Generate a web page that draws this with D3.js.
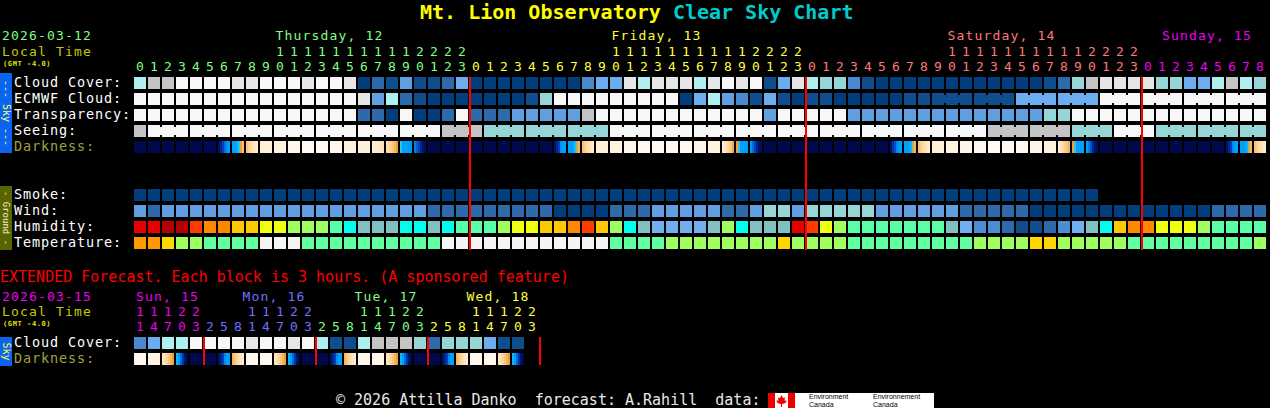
<!DOCTYPE html>
<html>
<head>
<meta charset="utf-8">
<script src="https://cdn.jsdelivr.net/npm/d3@7"></script>
<style>
  html, body { margin: 0; padding: 0; background: #000; }
  svg { display: block; }
  text { white-space: pre; }
</style>
</head>
<body>
<svg id="chart" width="1270" height="408"></svg>
<script>
// ---------- data ----------
var titleSite = "Mt. Lion Observatory ";
var titleChart = "Clear Sky Chart";
var chartDate = "2026-03-12";
var extDate = "2026-03-15";
var tzLabel = "(GMT -4.0)";

var dayNames = ["Thursday, 12", "Friday, 13", "Saturday, 14", "Sunday, 15"];
var hoursPerDay = [24, 24, 24, 9];

var skyRows = ["Cloud Cover:", "ECMWF Cloud:", "Transparency:", "Seeing:", "Darkness:"];
var groundRows = ["Smoke:", "Wind:", "Humidity:", "Temperature:"];

// cloud cover in tenths (0 clear .. 10 overcast)
var cloudCover = [7,8,8,10,10,10,10,9,9,10, 10,10,9,10,10,9,0,2,1,4,
                  1,1,2,5,0,0,0,0,0,0, 0,0,3,5,5,9,7,9,9,9,
                  7,9,10,9,10,1,5,9,7,6, 6,3,1,0,0,0,0,0,0,0,
                  0,0,0,0,0,1,2,6,8,9, 9,9,9,6,6,5,5,7,8,7,6];
var ecmwfCloud = [10,10,10,10,10,10,10,10,10,10, 10,10,10,10,10,10,9,4,7,2,
                  1,0,0,0,0,0,0,0,1,6, 10,10,10,10,10,10,10,10,10,0,
                  5,7,4,3,1,5,1,0,1,1, 0,0,0,0,0,1,1,1,1,1,
                  1,1,1,5,5,5,5,5,5,10, 10,10,10,10,10,10,10,10,10,10,10];
// transparency: 0 transparent .. 4 poor, 5 too cloudy
var transparency = [5,5,5,5,5,5,5,5,5,5, 5,5,5,5,5,5,1,1,0,5,
                    0,0,1,5,1,1,1,2,2,2, 2,2,4,5,5,5,5,5,5,5,
                    5,5,5,5,5,2,5,5,5,5, 5,2,2,2,2,2,2,2,2,2,
                    2,2,2,2,2,3,3,5,5,5, 5,5,5,5,5,5,5,5,5,5,5];
// seeing: 0 too cloudy, 1 bad, 2 poor
var seeing = [1,0,0,0,0,0,0,0,0,0, 0,0,0,0,0,0,0,0,0,0,
              0,0,1,1,1,2,2,2,2,2, 2,2,2,2,0,0,0,0,0,0,
              0,0,0,0,0,0,0,0,0,0, 0,0,0,0,0,0,0,0,0,0,
              0,1,1,1,1,1,1,2,2,2, 0,0,0,2,2,2,2,2,2,2,2];
// darkness (limiting magnitude like value, -4 day .. 6 dark); lists are sub-hour samples
var darkness = [6,6,6,6,6,5.8,[5,4,3,1.5,0.8,0.5],[0.5,0.5,0.4,0.1,-0.4,-1],[-1.2,-1.6,-2,-2.3,-2.6,-2.8],-3,
                -3.3,-3.7,-4,-4,-3.7,-3.3,-3,[-2.9,-2.8,-2.7,-2.6,-2.5,-2.4],[-2.2,-1.9,-1.6,-1.2,-0.8,-0.4],[0.1,0.5,0.5,0.5,0.5,0.7],
                [1.2,2,3,4,5,5.5],6,6,6,6,6,6,6,6,6,
                [5,4,3,0.8,0.5,0.5],[0.5,0.5,0.5,0.2,-0.3,-0.8],[-1,-1.5,-2,-2.3,-2.6,-2.8],-3,-3.3,-3.6,-3.9,-4,-4,-3.8,
                -3.5,-3.2,[-2.8,-2.5,-2.1,-1.7,-1.2,-0.6],[-0.4,0.1,0.5,0.5,0.5,0.5],[0.7,1.5,3,4,5,5.5],6,6,6,6,6,
                6,6,6,6,[5,3.5,2.5,1,0.6,0.5],[0.5,0.5,0.5,0.3,-0.3,-0.8],[-1,-1.5,-2,-2.3,-2.6,-2.8],-3,-3.3,-3.5,
                -3.8,-4,-4,-3.8,-3.5,-3.2,[-2.8,-2.4,-2,-1.6,-1.2,-0.8],[-0.4,0.1,0.5,0.5,0.5,0.5],[0.6,1.2,2.5,4,5,5.5],6,
                6,6,6,6,6,6,6,6,[5,4,3,1,0.5,0.5],[0.5,0.5,0.5,0.3,-0.3,-0.8],[-1,-1.5,-2,-2.3,-2.6,-2.8]];
// smoke: 0 = no smoke, null = no data
var smoke = [0,0,0,0,0,0,0,0,0,0, 0,0,0,0,0,0,0,0,0,0,
             0,0,0,0,0,0,0,0,0,0, 0,0,0,0,0,0,0,0,0,0,
             0,0,0,0,0,0,0,0,0,0, 0,0,0,0,0,0,0,0,0,0,
             0,0,0,0,0,0,0,0,0,null, null,null,null,null,null,null,null,null,null,null,null];
// wind bands: 0 calm .. 5 strong
var wind = [2,1,2,2,2,2,2,2,2,2, 2,2,2,2,2,2,2,2,2,2,
            2,1,1,1,1,1,1,1,1,1, 0,0,0,0,1,1,1,2,2,2,
            2,2,1,1,2,3,3,2,3,3, 3,3,3,2,2,2,2,2,2,1,
            1,1,1,1,0,0,0,0,0,0, 0,0,0,0,0,0,0,1,1,1,1];
// humidity bands: 0 (<25%) .. 14 (95-100%)
var humidity = [13,13,14,14,12,11,11,10,10,9, 9,8,8,8,7,6,5,5,5,6,
                6,5,6,7,7,7,8,9,9,10, 10,11,12,10,8,6,5,4,4,4,
                4,5,8,6,5,5,5,13,12,9, 8,7,7,7,7,7,7,7,5,4,
                3,3,2,1,1,2,3,4,5,6, 10,11,11,9,9,9,8,7,7,7,7];
// temperature bands
var temperature = [4,4,3,2,2,1,1,1,1,0, 0,0,1,1,1,1,1,1,1,1,
                   1,1,0,0,0,0,0,0,0,0, 0,0,0,0,1,1,1,1,2,2,
                   2,2,2,2,2,2,3,2,2,2, 2,1,1,1,1,1,1,1,1,1,
                   2,2,2,2,3,3,2,2,2,2, 2,1,1,1,1,1,1,1,1,1,2];

// extended forecast (3 hour blocks)
var extTitle = "EXTENDED Forecast. Each block is 3 hours. (A sponsored feature)";
var extDayNames = ["Sun, 15", "Mon, 16", "Tue, 17", "Wed, 18"];
var extDayHours = [[11,14,17,20,23], [2,5,8,11,14,17,20,23], [2,5,8,11,14,17,20,23], [2,5,8,11,14,17,20,23]];
var extRows = ["Cloud Cover:", "Darkness:"];
var extCloud = [3,5,7,7,10,10,10,10,9,10,10,9,10,7,1,1,7,8,8,8,6,2,6,6,6,5,1,1];
var extDark = [-3.8,-3.4,[-2.6,-2.2,-1.8,-1.3,-0.8,-0.4],[0.3,0.5,1.5,3.5,5,6],6,6,[5,4,3,1,0.5,0.5],[-0.8,-1.3,-1.8,-2.2,-2.6,-2.9],-3.8,-3.9,
               [-2.6,-2.2,-1.8,-1.3,-0.8,-0.4],[0.3,0.5,1.5,3.5,5,6],6,6,[5,4,3,1,0.5,0.5],[-0.8,-1.3,-1.8,-2.2,-2.6,-2.9],-3.8,-3.6,
               [-2.6,-2.2,-1.8,-1.3,-0.8,-0.4],[0.3,0.5,1.5,3.5,5,6],6,6,[5,4,3,1,0.5,0.5],[-0.8,-1.3,-1.8,-2.2,-2.6,-2.9],-3.8,-3.7,
               [-2.6,-2.2,-1.8,-1.3,-0.8,-0.4],[0.3,0.5,1.5,3.5,5,6]];

var footerText = "\u00a9 2026 Attilla Danko  forecast: A.Rahill  data:";

// ---------- styles ----------
var mono = '"DejaVu Sans Mono", monospace';
var hdrSize = 13, hdrSpacing = 1.17;   // 13px glyphs on a 9px pitch
var rowSize = 13.5, rowSpacing = 0.87;
var dayColors = ["#80ff80", "#ffff40", "#ff7878", "#ee00ee"];
var extDayColors = ["#ee00ee", "#7070ff", "#80ff80", "#ffff40"];
var cloudPal = ["#003e7e","#0f4e8e","#2c6aab","#4a89cd","#5f9fe2","#6cadf0","#96d6d6","#aef0f0","#c4c4c4","#e6e6e6","#f7f7f7"];
var bandPal = ["#003e7e","#2c6aab","#5f9fe2","#96d6d6","#c4c4c4","#f7f7f7"];
var seeingPal = ["#f7f7f7","#c4c4c4","#96d6d6","#5f9fe2","#2c6aab","#003e7e"];
var humPal = ["#003e7e","#0f4d8d","#2c6aab","#4a8ed2","#70b0f0","#80c0c0","#00ffee","#58ffa8","#a0ff60","#eeff10","#ffc800","#ff8800","#ff3c00","#e60000","#b40000"];
var tempPal = ["#f4f4f4","#60ffa0","#a0ff60","#ffd700","#ff9900"];

function pal(list) { return d3.scaleOrdinal().domain(d3.range(list.length)).range(list); }
var cloudColor = pal(cloudPal), bandColor = pal(bandPal), seeingColor = pal(seeingPal),
    humColor = pal(humPal), tempColor = pal(tempPal);
var darkColor = d3.scaleLinear()
    .domain([-4, -3.5, -3, -2.5, -2, -1, -0.4, 0, 0.5, 1.5, 3, 4.5, 6])
    .range(["#fffaf4","#fff5e6","#fff0d8","#ffe6c0","#ffdaa2","#f8c070","#f0a030","#30d0f0","#00a0ff","#0070e0","#0040b8","#001878","#00084e"])
    .clamp(true);

// ---------- layout ----------
var svg = d3.select("#chart");
svg.append("rect").attr("width", 1270).attr("height", 408).attr("fill", "#000");

var cols = [];
dayNames.forEach(function (n, d) {
    for (var h = 0; h < hoursPerDay[d]; h++) cols.push({ day: d, hour: h });
});
var x = d3.scaleBand().domain(d3.range(cols.length))
    .range([134, 134 + cols.length * 14 - 2]).paddingInner(2 / 14);
var ySky = d3.scaleBand().domain(skyRows).range([77, 77 + skyRows.length * 16 - 4]).paddingInner(4 / 16);
var yGround = d3.scaleBand().domain(groundRows).range([189, 189 + groundRows.length * 16 - 4]).paddingInner(4 / 16);

function cellRow(g, xs, values, y0, color, block) {
    var bw = xs.bandwidth();
    var data = values.map(function (v, i) { return { i: i, v: v }; })
        .filter(function (d) { return d.v != null; });
    g.selectAll(null).data(data).join("rect")
        .attr("x", function (d) { return xs(d.i); })
        .attr("y", y0).attr("width", bw).attr("height", bw)
        .attr("fill", function (d) { return color(d.v); });
    if (block) {
        var br = data.filter(function (d) {
            var b0 = block(d.i), b1 = block(d.i + 1);
            return d.i + 1 < values.length && values[d.i + 1] === d.v && b0 != null && b0 === b1;
        });
        g.selectAll(null).data(br).join("rect")
            .attr("x", function (d) { return xs(d.i) + bw; })
            .attr("y", y0 + 2).attr("width", xs.step() - bw).attr("height", bw - 4)
            .attr("fill", function (d) { return color(d.v); });
    }
}

function darkRow(g, xs, values, y0) {
    var bw = xs.bandwidth(), stripes = [];
    values.forEach(function (v, i) {
        var arr = Array.isArray(v) ? v : [v];
        arr.forEach(function (s, k) { stripes.push({ i: i, k: k, n: arr.length, s: s }); });
    });
    g.selectAll(null).data(stripes).join("rect")
        .attr("x", function (d) { return xs(d.i) + d.k * bw / d.n; })
        .attr("y", y0)
        .attr("width", function (d) { return bw / d.n; })
        .attr("height", bw)
        .attr("fill", function (d) { return darkColor(d.s); });
}

function sideBar(y0, y1, fill, label, color, fs) {
    svg.append("rect").attr("x", 0).attr("y", y0).attr("width", 12).attr("height", y1 - y0).attr("fill", fill);
    svg.append("text").attr("transform", "translate(2.5," + ((y0 + y1) / 2) + ") rotate(90)")
        .attr("text-anchor", "middle").attr("font-family", mono).attr("font-size", fs)
        .attr("fill", color).text(label);
}

// ---------- title & header ----------
var title = svg.append("text").attr("x", 420).attr("y", 18.5)
    .attr("font-family", mono).attr("font-size", 20).attr("font-weight", "bold");
title.append("tspan").attr("fill", "#ffff00").text(titleSite);
title.append("tspan").attr("fill", "#00cccc").text(titleChart);

var hdr = svg.append("g").attr("font-family", mono).attr("font-size", hdrSize);
hdr.append("text").attr("x", 2).attr("y", 40.3).attr("letter-spacing", hdrSpacing)
    .attr("fill", dayColors[0]).text(chartDate);
hdr.append("text").attr("x", 2).attr("y", 55.7).attr("letter-spacing", hdrSpacing)
    .attr("fill", "#c8c800").text("Local Time");
hdr.append("text").attr("x", 3).attr("y", 65.5).attr("font-size", 7).attr("font-weight", "bold")
    .attr("letter-spacing", 0.6).attr("fill", "#e0e000").text(tzLabel);

var cx = function (i) { return x(i) + x.bandwidth() / 2; };
dayNames.forEach(function (name, d) {
    var idx = cols.map(function (c, i) { return c.day === d ? i : -1; }).filter(function (i) { return i >= 0; });
    var ten = idx.filter(function (i) { return cols[i].hour === 10; });
    var t = hdr.append("text").attr("y", 40.3).attr("letter-spacing", hdrSpacing)
        .attr("fill", dayColors[d]).text(name);
    if (ten.length) t.attr("x", cx(ten[0]) - 4.5);
    else t.attr("x", (cx(idx[0]) + cx(idx[idx.length - 1])) / 2 - name.length * 4.5 + 3);
});
hdr.selectAll(null).data(cols.map(function (c, i) { return { c: c, i: i }; }).filter(function (d) { return d.c.hour >= 10; }))
    .join("text").attr("x", function (d) { return cx(d.i); }).attr("y", 55.7).attr("text-anchor", "middle")
    .attr("fill", function (d) { return dayColors[d.c.day]; })
    .text(function (d) { return Math.floor(d.c.hour / 10); });
hdr.selectAll(null).data(cols.map(function (c, i) { return { c: c, i: i }; }))
    .join("text").attr("x", function (d) { return cx(d.i); }).attr("y", 70.9).attr("text-anchor", "middle")
    .attr("fill", function (d) { return dayColors[d.c.day]; })
    .text(function (d) { return d.c.hour % 10; });

// ---------- sky & ground rows ----------
var grid = svg.append("g").attr("shape-rendering", "crispEdges");
cellRow(grid, x, cloudCover, ySky("Cloud Cover:"), cloudColor);
cellRow(grid, x, ecmwfCloud, ySky("ECMWF Cloud:"), cloudColor,
    function (i) { return i >= 57 ? Math.floor(i / 3) : null; });
cellRow(grid, x, transparency, ySky("Transparency:"), bandColor);
cellRow(grid, x, seeing, ySky("Seeing:"), seeingColor,
    function (i) { return Math.floor((i + 2) / 3); });
darkRow(grid, x, darkness, ySky("Darkness:"));
cellRow(grid, x, smoke, yGround("Smoke:"), function () { return "#003e7e"; });
cellRow(grid, x, wind, yGround("Wind:"), bandColor);
cellRow(grid, x, humidity, yGround("Humidity:"), humColor);
cellRow(grid, x, temperature, yGround("Temperature:"), tempColor);

var labels = svg.append("g").attr("font-family", mono).attr("font-size", rowSize)
    .attr("letter-spacing", rowSpacing);
labels.selectAll(null).data(skyRows).join("text")
    .attr("x", 14).attr("y", function (d) { return ySky(d) + 10; })
    .attr("fill", function (d) { return d === "Darkness:" ? "#a0a040" : "#ffffff"; })
    .text(function (d) { return d; });
labels.selectAll(null).data(groundRows).join("text")
    .attr("x", 14).attr("y", function (d) { return yGround(d) + 10; })
    .attr("fill", "#ffffff").text(function (d) { return d; });

// midnight lines
var midnights = cols.map(function (c, i) { return c.hour === 0 && i > 0 ? i : -1; }).filter(function (i) { return i > 0; });
svg.selectAll(null).data(midnights).join("rect").attr("shape-rendering", "crispEdges")
    .attr("x", function (i) { return x(i) - 1; }).attr("y", 77).attr("width", 2).attr("height", 173)
    .attr("fill", "#ff0000");

sideBar(73, 153, "#0a64f0", "--- Sky ---", "#ffff80", 10);
sideBar(186, 250, "#5a6500", "- Ground -", "#f0f0d0", 9);

// ---------- extended forecast ----------
var ext = svg.append("g").attr("font-family", mono).attr("font-size", hdrSize);
ext.append("text").attr("x", 0).attr("y", 281.5).attr("font-size", 15).attr("fill", "#ff0000").text(extTitle);
ext.append("text").attr("x", 2).attr("y", 300.5).attr("letter-spacing", hdrSpacing)
    .attr("fill", extDayColors[0]).text(extDate);
ext.append("text").attr("x", 2).attr("y", 315.8).attr("letter-spacing", hdrSpacing)
    .attr("fill", "#c8c800").text("Local Time");
ext.append("text").attr("x", 3).attr("y", 325.6).attr("font-size", 7).attr("font-weight", "bold")
    .attr("letter-spacing", 0.6).attr("fill", "#e0e000").text(tzLabel);

var blocks = [];
extDayHours.forEach(function (hs, d) { hs.forEach(function (h) { blocks.push({ day: d, hour: h }); }); });
var xe = d3.scaleBand().domain(d3.range(blocks.length))
    .range([134, 134 + blocks.length * 14 - 2]).paddingInner(2 / 14);
var ye = d3.scaleBand().domain(extRows).range([337, 337 + extRows.length * 16 - 4]).paddingInner(4 / 16);
var cxe = function (i) { return xe(i) + xe.bandwidth() / 2; };

extDayNames.forEach(function (name, d) {
    var idx = blocks.map(function (b, i) { return b.day === d ? i : -1; }).filter(function (i) { return i >= 0; });
    var ten = idx.filter(function (i) { return blocks[i].hour >= 10; });
    ext.append("text").attr("x", Math.max(cxe(idx[0]) - 4, cxe(ten[0]) - 9.5)).attr("y", 300.5)
        .attr("letter-spacing", hdrSpacing).attr("fill", extDayColors[d]).text(name);
});
var bl = blocks.map(function (b, i) { return { b: b, i: i }; });
ext.selectAll(null).data(bl.filter(function (d) { return d.b.hour >= 10; })).join("text")
    .attr("x", function (d) { return cxe(d.i); }).attr("y", 315.8).attr("text-anchor", "middle")
    .attr("fill", function (d) { return extDayColors[d.b.day]; })
    .text(function (d) { return Math.floor(d.b.hour / 10); });
ext.selectAll(null).data(bl).join("text")
    .attr("x", function (d) { return cxe(d.i); }).attr("y", 331).attr("text-anchor", "middle")
    .attr("fill", function (d) { return extDayColors[d.b.day]; })
    .text(function (d) { return d.b.hour % 10; });

var egrid = svg.append("g").attr("shape-rendering", "crispEdges");
cellRow(egrid, xe, extCloud, ye("Cloud Cover:"), cloudColor);
darkRow(egrid, xe, extDark, ye("Darkness:"));
ext.selectAll(null).data(extRows).join("text")
    .attr("x", 14).attr("y", function (d) { return ye(d) + 10; })
    .attr("font-size", rowSize).attr("letter-spacing", rowSpacing)
    .attr("fill", function (d) { return d === "Darkness:" ? "#a0a040" : "#ffffff"; })
    .text(function (d) { return d; });

var extMid = blocks.map(function (b, i) { return i > 0 && b.hour < blocks[i - 1].hour ? i : -1; })
    .filter(function (i) { return i > 0; });
extMid.push(blocks.length);
svg.selectAll(null).data(extMid).join("rect").attr("shape-rendering", "crispEdges")
    .attr("x", function (i) { return 134 + i * xe.step() - 1; }).attr("y", 337).attr("width", 2).attr("height", 28)
    .attr("fill", "#ff0000");

sideBar(337, 366, "#0a64f0", "Sky", "#ffff40", 10);

// ---------- footer ----------
svg.append("text").attr("x", 336).attr("y", 404.5).attr("font-family", mono).attr("font-size", 15)
    .attr("xml:space", "preserve").attr("fill", "#e8e8e8").text(footerText);
var logo = svg.append("g").attr("transform", "translate(768,393)");
logo.append("rect").attr("width", 166).attr("height", 15).attr("fill", "#ffffff");
logo.append("rect").attr("width", 7).attr("height", 15).attr("fill", "#ee0000");
logo.append("rect").attr("x", 20).attr("width", 7).attr("height", 15).attr("fill", "#ee0000");
logo.append("path").attr("fill", "#ee0000")
    .attr("d", "M13.5,2 L15,5 L17,4.5 L16.5,8 L18.5,7 L18,9.5 L15,11 L14,11 L14,14 L13,14 L13,11 L12,11 L9,9.5 L8.5,7 L10.5,8 L10,4.5 L12,5 Z");
var lt = logo.append("g").attr("font-family", "Liberation Sans, Arial, sans-serif").attr("font-size", 7).attr("fill", "#000");
lt.append("text").attr("x", 41).attr("y", 6).text("Environment");
lt.append("text").attr("x", 41).attr("y", 14).text("Canada");
lt.append("text").attr("x", 105).attr("y", 6).text("Environnement");
lt.append("text").attr("x", 105).attr("y", 14).text("Canada");
</script>
</body>
</html>
